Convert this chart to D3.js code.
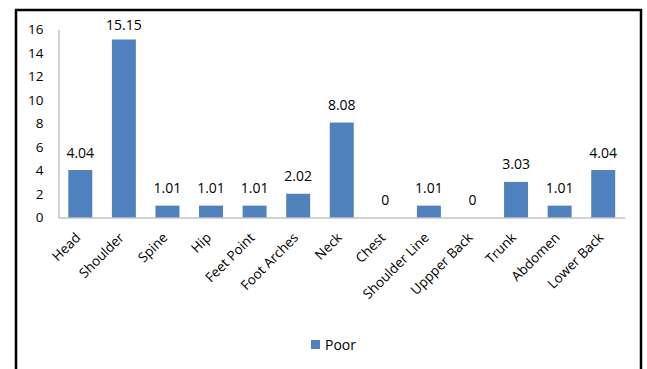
<!DOCTYPE html>
<html><head><meta charset="utf-8">
<script src="https://cdn.jsdelivr.net/npm/d3@7"></script>
<style>html,body{margin:0;padding:0;background:#fff;}svg{display:block;}</style>
</head><body>
<script>
const categories = ["Head","Shoulder","Spine","Hip","Feet Point","Foot Arches","Neck","Chest","Shoulder Line","Uppper Back","Trunk","Abdomen","Lower Back"];
const poorValues = [4.04,15.15,1.01,1.01,1.01,2.02,8.08,0,1.01,0,3.03,1.01,4.04];
const yTicks = [0,2,4,6,8,10,12,14,16];
const seriesName = "Poor";

(function () {
const W = 647, H = 369;
const svg = d3.select("body").append("svg").attr("width", W).attr("height", H);
const font = "'Open Sans', sans-serif";

// outer frame
svg.append("rect").attr("x", 16).attr("y", 10).attr("width", 625).attr("height", 380)
  .attr("fill", "none").attr("stroke", "#000").attr("stroke-width", 2.5);

const pL = 58.5, pR = 625, pT = 29.5, pB = 217.5;
const x = d3.scaleBand().domain(categories).range([pL, pR]).paddingInner(0.45).paddingOuter(0.225);
const y = d3.scaleLinear().domain([0, 16]).range([pB, pT]);

// y axis
const yAx = svg.append("g").attr("transform", `translate(${pL},0)`)
  .call(d3.axisLeft(y).tickValues(yTicks).tickSize(0).tickPadding(15));
yAx.select(".domain").attr("stroke", "#a6a6a6").attr("stroke-width", 1);
yAx.selectAll("text").attr("font-family", font).attr("font-size", 13.5).attr("fill", "#000");

// bars
svg.append("g").selectAll("rect").data(poorValues).join("rect")
  .attr("x", (d, i) => x(categories[i]))
  .attr("width", x.bandwidth())
  .attr("y", d => y(d))
  .attr("height", d => pB - y(d))
  .attr("fill", "#4f81bd");

// x axis
const xAx = svg.append("g").attr("transform", `translate(0,${pB})`)
  .call(d3.axisBottom(x).tickSize(0).tickPadding(0));
xAx.select(".domain").attr("stroke", "#a6a6a6").attr("stroke-width", 1.2);
xAx.selectAll("text")
  .attr("font-family", font).attr("font-size", 13.5).attr("fill", "#000")
  .attr("text-anchor", "end")
  .attr("dy", null)
  .attr("transform", "translate(1,21) rotate(-45)");

// value labels
svg.append("g").selectAll("text").data(poorValues).join("text")
  .attr("x", (d, i) => x(categories[i]) + x.bandwidth() / 2)
  .attr("y", d => Math.max(y(d) - 12.5, pT))
  .attr("text-anchor", "middle")
  .attr("font-family", font).attr("font-size", 14).attr("fill", "#000")
  .text(d => d);

// legend
const lg = svg.append("g").attr("transform", "translate(311,340)");
lg.append("rect").attr("width", 9).attr("height", 9).attr("fill", "#4f81bd");
lg.append("text").attr("x", 14).attr("y", 10).attr("font-family", font).attr("font-size", 14).text(seriesName);
})();
</script>
</body></html>
